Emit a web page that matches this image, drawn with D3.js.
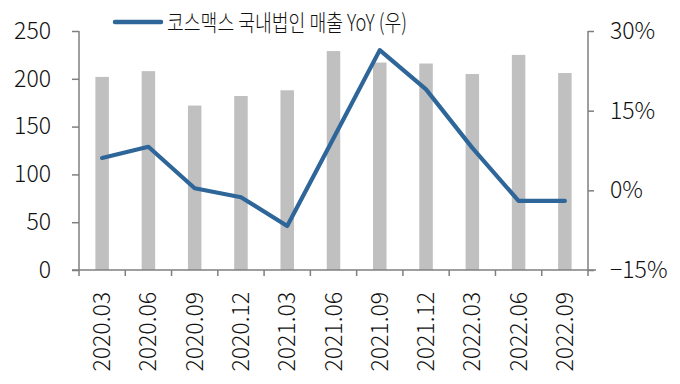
<!DOCTYPE html>
<html>
<head>
<meta charset="utf-8">
<script src="https://cdn.jsdelivr.net/npm/d3@7"></script>
<style>
  body { margin: 0; background: #fff; }
  text { font-family: "Noto Sans CJK KR", "Noto Sans", sans-serif; font-weight: 300; fill: #111; }
</style>
</head>
<body>
<div id="chart"></div>
<script>
// 분기 / 매출(좌) / YoY(우)
var quarters = ["2020.03","2020.06","2020.09","2020.12","2021.03","2021.06","2021.09","2021.12","2022.03","2022.06","2022.09"];
var sales = [202, 208, 172, 182, 188, 229, 217, 216, 205, 225, 206];
var yoy = [6.1, 8.2, 0.4, -1.3, -6.7, 9.8, 26.4, 19.0, 8.0, -2.0, -2.0];
var leftTicks = [0, 50, 100, 150, 200, 250];
var rightTicks = [-15, 0, 15, 30];
var legendLabel = "코스맥스 국내법인 매출 YoY (우)";

var w = 680, h = 384;
var mLeft = 79, mRight = 588, mTop = 31, mBottom = 270;

var svg = d3.select("#chart").append("svg")
    .attr("width", w)
    .attr("height", h);

var x = d3.scaleBand()
    .domain(quarters)
    .range([mLeft, mRight]);

var yL = d3.scaleLinear().domain([0, 250]).range([mBottom, mTop]);
var yR = d3.scaleLinear().domain([-15, 30]).range([mBottom, mTop]);

//bars
var barW = 13.5;
svg.selectAll("rect.bar")
    .data(sales)
    .enter()
    .append("rect")
    .attr("class", "bar")
    .attr("x", function (d, i) { return x(quarters[i]) + x.bandwidth() / 2 - barW / 2; })
    .attr("y", function (d) { return yL(d); })
    .attr("width", barW)
    .attr("height", function (d) { return mBottom - yL(d); })
    .style("fill", "#c0c0c0");

//line
var line = d3.line()
    .x(function (d, i) { return x(quarters[i]) + x.bandwidth() / 2; })
    .y(function (d) { return yR(d); });

svg.append("path")
    .datum(yoy)
    .attr("d", line)
    .style("fill", "none")
    .style("stroke", "#2e6699")
    .style("stroke-width", 4.2)
    .style("stroke-linejoin", "round")
    .style("stroke-linecap", "round");

var axisColor = "#7f7f7f";
var fontPx = "23px";

//left axis
var gL = svg.append("g")
    .attr("transform", "translate(" + mLeft + ",0)")
    .call(d3.axisLeft(yL).tickValues(leftTicks).tickSize(7).tickPadding(21));
gL.select(".domain").attr("d", "M0," + mTop + "V" + mBottom);

//right axis
var gR = svg.append("g")
    .attr("transform", "translate(" + mRight + ",0)")
    .call(d3.axisRight(yR).tickValues(rightTicks).tickSize(6).tickPadding(16)
        .tickFormat(function (d) { return (d < 0 ? "\u2212" + Math.abs(d) : d) + "%"; }));
gR.select(".domain").attr("d", "M0," + mTop + "V" + mBottom);

//bottom axis (ticks between categories)
var gB = svg.append("g").attr("transform", "translate(0," + mBottom + ")");
gB.append("line")
    .attr("x1", mLeft - 7).attr("x2", mRight + 8)
    .style("stroke", axisColor).style("stroke-width", 1.5);
var bounds = quarters.map(function (q) { return x(q); }).concat([mRight]);
gB.selectAll("line.tick")
    .data(bounds)
    .enter()
    .append("line")
    .attr("class", "tick")
    .attr("x1", function (d) { return d; })
    .attr("x2", function (d) { return d; })
    .attr("y1", 0).attr("y2", 6)
    .style("stroke", axisColor).style("stroke-width", 1.5);

gB.selectAll("text")
    .data(quarters)
    .enter()
    .append("text")
    .attr("transform", function (d) {
        return "translate(" + (x(d) + x.bandwidth() / 2 + 8) + ",22) rotate(-90)";
    })
    .attr("text-anchor", "end")
    .style("font-size", fontPx)
    .text(function (d) { return d; });

[gL, gR].forEach(function (g) {
    g.selectAll("path, line").style("stroke", axisColor).style("stroke-width", 1.5);
    g.selectAll("text").style("font-size", fontPx).style("fill", "#111");
});

//legend
svg.append("line")
    .attr("x1", 115).attr("x2", 161)
    .attr("y1", 22).attr("y2", 22)
    .style("stroke", "#2e6699")
    .style("stroke-width", 4.5)
    .style("stroke-linecap", "round");
svg.append("text")
    .attr("x", 167).attr("y", 31)
    .attr("textLength", 240)
    .attr("lengthAdjust", "spacingAndGlyphs")
    .style("font-size", "23px")
    .text(legendLabel);
</script>
</body>
</html>
